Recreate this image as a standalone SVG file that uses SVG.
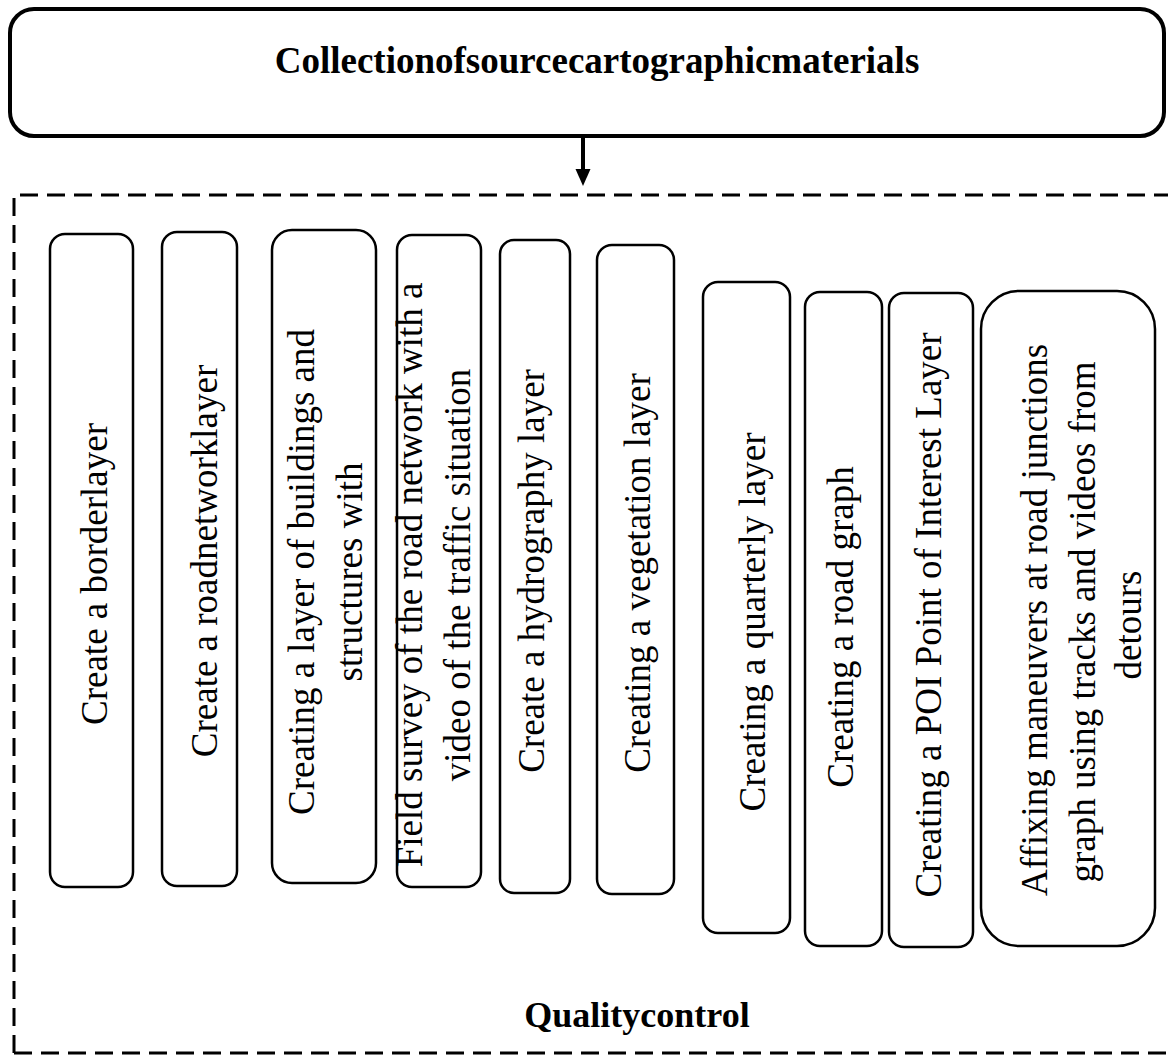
<svg xmlns="http://www.w3.org/2000/svg" width="1168" height="1055" viewBox="0 0 1168 1055">
<style>
.box{fill:#fff;stroke:#000;stroke-width:2.5}
.t{font-family:"Liberation Serif","Times New Roman",serif;font-size:37px;fill:#000}
.b{font-family:"Liberation Serif","Times New Roman",serif;font-weight:bold;fill:#000}
</style>
<rect width="1168" height="1055" fill="#fff"/>
<g id="frame">
<path d="M14,1053 V195 H1168 M14,1053 H1168" fill="none" stroke="#000" stroke-width="3" stroke-dasharray="18,9"/>
<text class="b" x="637" y="1027" font-size="36" text-anchor="middle">Qualitycontrol</text>
</g>
<g id="source">
<rect x="10" y="9" width="1154" height="127" rx="24" fill="#fff" stroke="#000" stroke-width="4"/>
<text class="b" x="597" y="73" font-size="37" text-anchor="middle">Collectionofsourcecartographicmaterials</text>
</g>
<g id="connectors">
<line x1="583" y1="137" x2="583" y2="171" stroke="#000" stroke-width="4"/>
<polygon points="575.5,169 590.5,169 583,186" fill="#000"/>
</g>
<g id="n1"><rect class="box" x="50" y="234" width="83" height="653" rx="15"/>
<text class="t" transform="translate(107,574) rotate(-90)" text-anchor="middle">Create a borderlayer</text></g>
<g id="n2"><rect class="box" x="162" y="232" width="75" height="654" rx="15"/>
<text class="t" transform="translate(217,561) rotate(-90)" text-anchor="middle">Create a roadnetworklayer</text></g>
<g id="n3"><rect class="box" x="272" y="230" width="104" height="653" rx="20"/>
<text class="t" transform="translate(314,572) rotate(-90)" text-anchor="middle">Creating a layer of buildings and</text>
<text class="t" transform="translate(362,572) rotate(-90)" text-anchor="middle">structures with</text></g>
<g id="n4"><rect class="box" x="397" y="235" width="84" height="652" rx="15"/>
<text class="t" transform="translate(422,575) rotate(-90)" text-anchor="middle">Field survey of the road network with a</text>
<text class="t" transform="translate(470,575) rotate(-90)" text-anchor="middle">video of the traffic situation</text></g>
<g id="n5"><rect class="box" x="500" y="240" width="70" height="653" rx="14"/>
<text class="t" transform="translate(544,571) rotate(-90)" text-anchor="middle">Create a hydrography layer</text></g>
<g id="n6"><rect class="box" x="597" y="245" width="77" height="649" rx="15"/>
<text class="t" transform="translate(650,573) rotate(-90)" text-anchor="middle">Creating a vegetation layer</text></g>
<g id="n7"><rect class="box" x="703" y="282" width="87" height="651" rx="15"/>
<text class="t" transform="translate(765,622) rotate(-90)" text-anchor="middle">Creating a quarterly layer</text></g>
<g id="n8"><rect class="box" x="805" y="292" width="77" height="654" rx="15"/>
<text class="t" transform="translate(853,627) rotate(-90)" text-anchor="middle">Creating a road graph</text></g>
<g id="n9"><rect class="box" x="889" y="293" width="84" height="654" rx="15"/>
<text class="t" transform="translate(941,615) rotate(-90)" text-anchor="middle">Creating a POI Point of Interest Layer</text></g>
<g id="n10"><rect class="box" x="981" y="291" width="174" height="655" rx="38"/>
<text class="t" transform="translate(1047,620) rotate(-90)" text-anchor="middle">Affixing maneuvers at road junctions</text>
<text class="t" transform="translate(1095,622) rotate(-90)" text-anchor="middle">graph using tracks and videos from</text>
<text class="t" transform="translate(1141,625) rotate(-90)" text-anchor="middle">detours</text></g>
</svg>
